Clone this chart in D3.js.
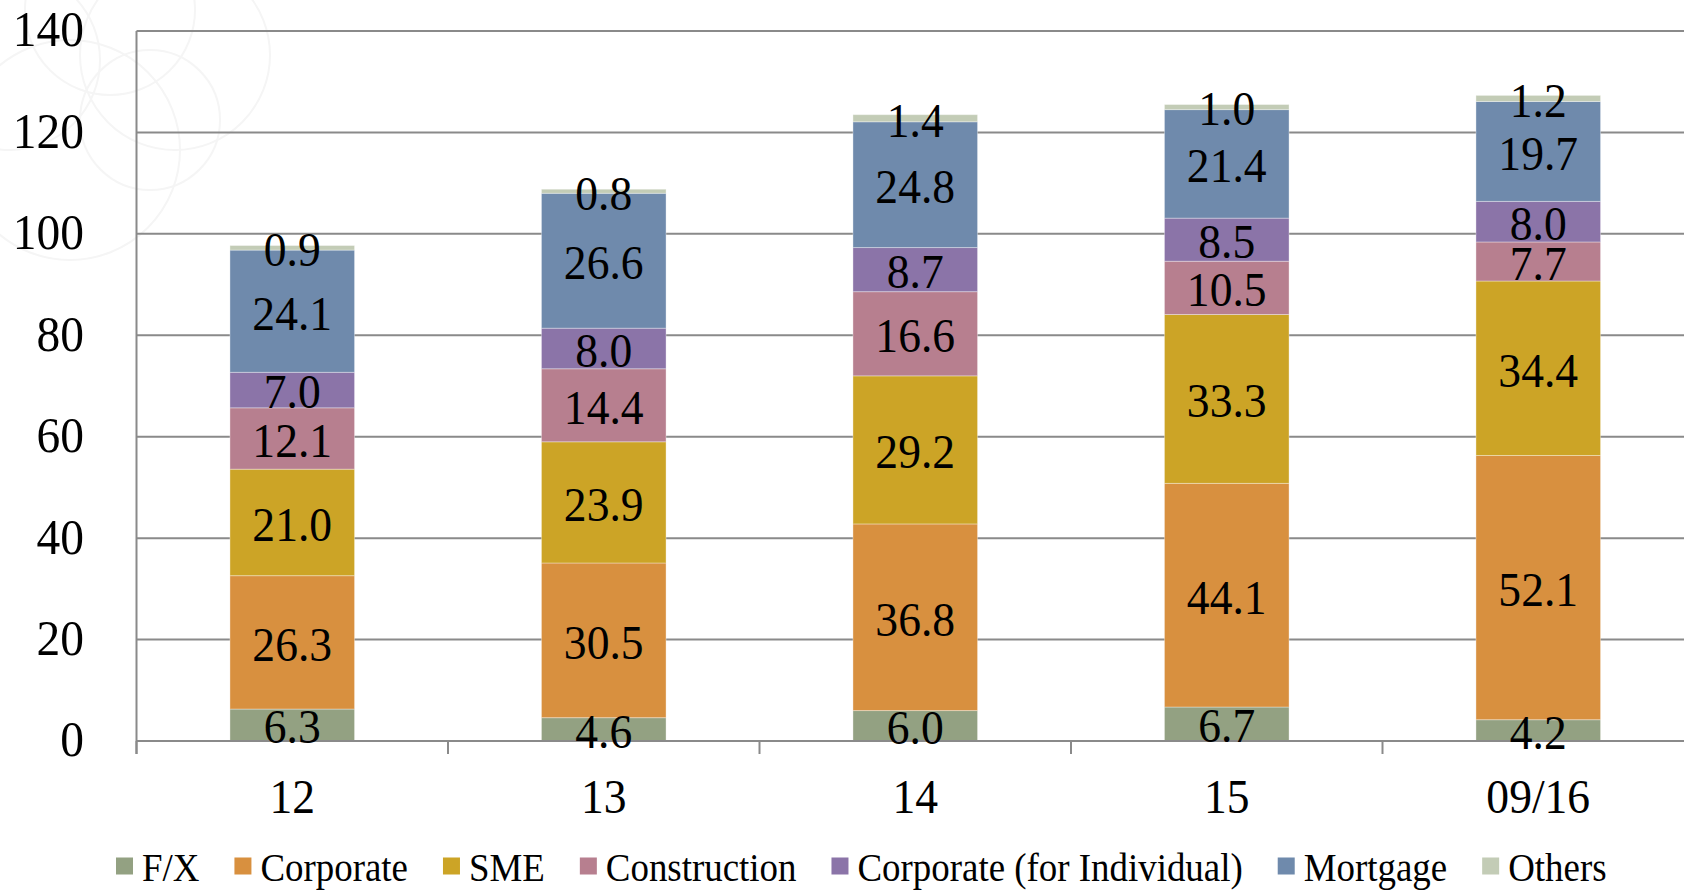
<!DOCTYPE html>
<html><head><meta charset="utf-8">
<script src="https://cdn.jsdelivr.net/npm/d3@7"></script>
<style>html,body{margin:0;padding:0;background:#fff;}svg{display:block;}</style>
</head><body>
<svg id="chart" width="1684" height="890"></svg>
<script>
const categories = ["12", "13", "14", "15", "09/16"];
const seriesNames = ["F/X", "Corporate", "SME", "Construction", "Corporate (for Individual)", "Mortgage", "Others"];
const fx           = [6.3, 4.6, 6.0, 6.7, 4.2];
const corporate    = [26.3, 30.5, 36.8, 44.1, 52.1];
const sme          = [21.0, 23.9, 29.2, 33.3, 34.4];
const construction = [12.1, 14.4, 16.6, 10.5, 7.7];
const corpIndiv    = [7.0, 8.0, 8.7, 8.5, 8.0];
const mortgage     = [24.1, 26.6, 24.8, 21.4, 19.7];
const others       = [0.9, 0.8, 1.4, 1.0, 1.2];
const yTicks = [0, 20, 40, 60, 80, 100, 120, 140];
const colors = ["#93a182", "#d8903f", "#cca426", "#b77f8f", "#8b74a8", "#6f8aac", "#c3ccb6"];

(function () {
const seriesValues = [fx, corporate, sme, construction, corpIndiv, mortgage, others];
const table = categories.map((c, i) => {
  const row = {cat: c};
  seriesNames.forEach((s, j) => row[s] = seriesValues[j][i]);
  return row;
});

const svg = d3.select("#chart");
const plotLeft = 136.5, plotTop = 31, plotBottom = 741;
const band = 311.5;
const x = d3.scaleBand().domain(categories).range([plotLeft, plotLeft + band * categories.length]).paddingInner(0).paddingOuter(0);
const y = d3.scaleLinear().domain([0, 140]).range([plotBottom, plotTop]);
const font = "'Liberation Serif', 'Times New Roman', serif";
const gridColor = "#8a8a8a";

svg.append("rect").attr("width", 1684).attr("height", 890).attr("fill", "#fff");

// faint watermark swirls
const wm = svg.append("g").attr("fill", "none").attr("stroke", "#f5f5f5").attr("stroke-width", 2);
[[175, 55, 95], [70, 150, 110], [110, 10, 85], [10, 60, 90], [150, 120, 70]].forEach(c =>
  wm.append("circle").attr("cx", c[0]).attr("cy", c[1]).attr("r", c[2]));

// gridlines
svg.append("g").selectAll("line").data(yTicks.filter(d => d > 0)).join("line")
  .attr("x1", plotLeft).attr("x2", 1700)
  .attr("y1", d => y(d)).attr("y2", d => y(d))
  .attr("stroke", gridColor).attr("stroke-width", 2);

// stacked bars
const stack = d3.stack().keys(seriesNames)(table);
const barW = band * 0.4;
const gBars = svg.append("g");
stack.forEach((layer, j) => {
  gBars.append("g").attr("fill", colors[j]).selectAll("rect").data(layer).join("rect")
    .attr("x", d => x(d.data.cat) + (band - barW) / 2)
    .attr("width", barW)
    .attr("y", d => y(d[1]))
    .attr("height", d => y(d[0]) - y(d[1]))
    .attr("stroke", "rgba(255,255,255,0.35)").attr("stroke-width", 1);
});

// axes lines
svg.append("line").attr("x1", plotLeft).attr("x2", 1700).attr("y1", y(0)).attr("y2", y(0))
  .attr("stroke", gridColor).attr("stroke-width", 2);
svg.append("line").attr("x1", plotLeft).attr("x2", plotLeft).attr("y1", plotTop).attr("y2", y(0) + 13)
  .attr("stroke", gridColor).attr("stroke-width", 2);
const boundaries = categories.map(c => x(c)).concat([x(categories[categories.length - 1]) + band]);
svg.append("g").selectAll("line").data(boundaries).join("line")
  .attr("x1", d => d).attr("x2", d => d).attr("y1", y(0)).attr("y2", y(0) + 13)
  .attr("stroke", gridColor).attr("stroke-width", 2);

// data labels
const gLabels = svg.append("g").attr("font-family", font).attr("font-size", 48).attr("fill", "#000")
  .attr("text-anchor", "middle").attr("dominant-baseline", "central");
stack.forEach((layer, j) => {
  gLabels.append("g").selectAll("text").data(layer).join("text")
    .attr("transform", d => `translate(${x(d.data.cat) + band / 2},${(y(d[0]) + y(d[1])) / 2 + 2}) scale(0.95,1)`)
    .text(d => d3.format(".1f")(d[1] - d[0]));
});

// y tick labels
svg.append("g").attr("font-family", font).attr("font-size", 50).attr("fill", "#000")
  .attr("text-anchor", "end").attr("dominant-baseline", "central")
  .selectAll("text").data(yTicks).join("text")
  .attr("transform", d => `translate(84,${y(d) - 1}) scale(0.95,1)`)
  .text(d => d);

// x labels
svg.append("g").attr("font-family", font).attr("font-size", 48).attr("fill", "#000")
  .attr("text-anchor", "middle").attr("dominant-baseline", "central")
  .selectAll("text").data(categories).join("text")
  .attr("transform", d => `translate(${x(d) + band / 2},797) scale(0.95,1)`)
  .text(d => d);

// legend
const legY = 866, sq = 17, legScale = 0.9;
let lx = 116;
const gLeg = svg.append("g").attr("font-family", font).attr("font-size", 41);
seriesNames.forEach((s, j) => {
  gLeg.append("rect").attr("x", lx).attr("y", legY - sq / 2).attr("width", sq).attr("height", sq).attr("fill", colors[j]);
  const t = gLeg.append("text").attr("dominant-baseline", "central")
    .attr("transform", `translate(${lx + sq + 9},${legY + 1}) scale(${legScale},1)`).text(s);
  const w = t.node().getComputedTextLength() * legScale;
  lx += sq + 9 + w + 35;
});
})();
</script>
</body></html>
